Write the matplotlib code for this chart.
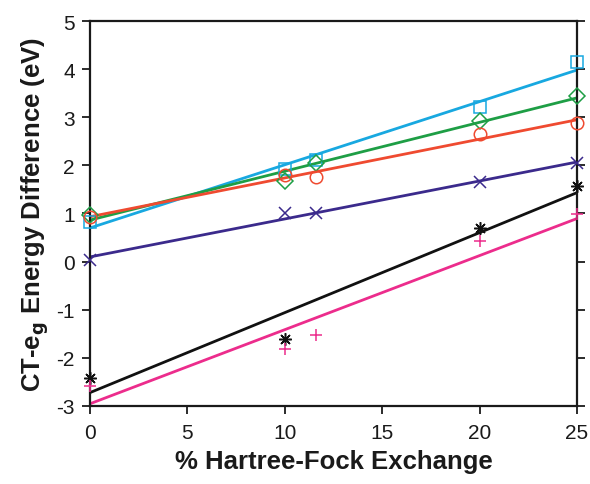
import numpy as np
import matplotlib
matplotlib.use("Agg")
import matplotlib.pyplot as plt

plt.rcParams['font.family'] = ['Liberation Sans', 'DejaVu Sans']
plt.rcParams['axes.unicode_minus'] = False

# % Hartree-Fock exchange used in each calculation
hf_exchange = [0, 10, 11.6, 20, 25]
hf_exchange_black = [0, 10, 20, 25]

# CT - eg energy differences (eV) for each series
cyan_vals = [0.83, 1.92, 2.12, 3.22, 4.15]
green_vals = [0.97, 1.68, 2.05, 2.93, 3.45]
red_vals = [0.93, 1.80, 1.76, 2.66, 2.88]
purple_vals = [0.04, 1.00, 1.00, 1.65, 2.05]
black_vals = [-2.42, -1.60, 0.70, 1.57]
pink_vals = [-2.58, -1.82, -1.53, 0.43, 0.98]

series = [
    (hf_exchange, cyan_vals, '#18a8e0', 's'),
    (hf_exchange, green_vals, '#1e9e45', 'D'),
    (hf_exchange, red_vals, '#ef4a30', 'o'),
    (hf_exchange, purple_vals, '#3b2a8c', 'x'),
    (hf_exchange_black, black_vals, '#111111', (8, 2, 0)),
    (hf_exchange, pink_vals, '#ec2c8c', '+'),
]

fig = plt.figure(figsize=(5.9, 4.85), dpi=100)
ax = fig.add_axes([0.1525, 0.161, 0.8255, 0.7936])

xfit = np.array([0, 25])
for x, y, color, marker in series:
    slope, intercept = np.polyfit(x, y, 1)
    ax.plot(xfit, slope * xfit + intercept, color=color, lw=2.0, zorder=2)
    filled = marker in ('x', '+') or isinstance(marker, tuple)
    ax.plot(x, y, linestyle='none', marker=marker,
            markersize=9 if marker != 'D' else 8,
            markerfacecolor=color if filled else 'none',
            markeredgecolor=color, markeredgewidth=1.1, zorder=3,
            clip_on=False)

ax.set_xlim(0, 25)
ax.set_ylim(-3, 5)
ax.set_xticks([0, 5, 10, 15, 20, 25])
ax.set_yticks(range(-3, 6))

for s in ax.spines.values():
    s.set_linewidth(1.6)
    s.set_color('#1a1a1a')

ax.tick_params(direction='out', length=6, width=1.3, labelsize=15,
               colors='#1a1a1a', right=True)
ax.tick_params(axis='x', pad=6)
ax.tick_params(axis='y', pad=5)

ax.set_xlabel('% Hartree-Fock Exchange', fontsize=18.5, fontweight='bold',
              color='#1a1a1a', labelpad=5)
ax.set_ylabel(r'CT-e$_\mathbf{g}$ Energy Difference (eV)', fontsize=18.5,
              fontweight='bold', color='#1a1a1a', labelpad=4)

fig.savefig('out.png', dpi=100)
